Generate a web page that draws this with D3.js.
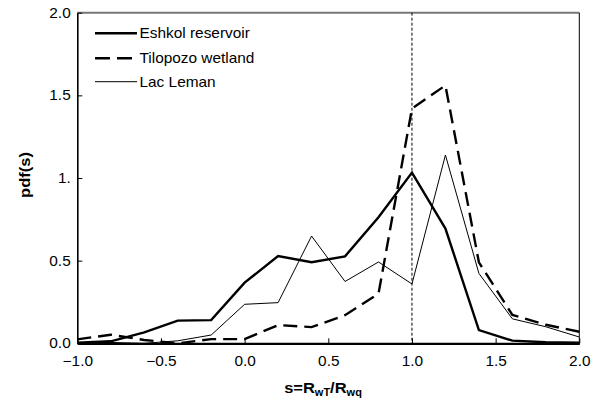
<!DOCTYPE html>
<html><head><meta charset="utf-8">
<script src="https://cdn.jsdelivr.net/npm/d3@7"></script>
<style>
body{margin:0;background:#fff;}
svg text{font-family:"Liberation Sans",Arial,sans-serif;}
</style></head>
<body><svg id="c" width="608" height="400"></svg>
<script>
const sValues = [-1.0,-0.8,-0.6,-0.4,-0.2,0.0,0.2,0.4,0.6,0.8,1.0,1.2,1.4,1.6,1.8,2.0];
const eshkol   = [0.004,0.012,0.066,0.137,0.14,0.367,0.528,0.49,0.526,0.762,1.033,0.694,0.08,0.016,0.006,0.004];
const tilopozo = [0.024,0.052,0.02,0.0,0.025,0.025,0.11,0.098,0.17,0.30,1.42,1.56,0.49,0.172,0.112,0.07];
const leman    = [0.003,0.005,0.0,0.015,0.05,0.236,0.246,0.649,0.374,0.492,0.359,1.139,0.423,0.148,0.1,0.038];
const xTicks = [-1.0,-0.5,0.0,0.5,1.0,1.5,2.0];
const xTickLabels = ["\u22121.0","\u22120.5","0.0","0.5","1.0","1.5","2.0"];
const yTicks = [0,0.5,1.0,1.5,2.0];
const yTickLabels = ["0.0","0.5","1.","1.5","2.0"];
const seriesNames = ["Eshkol reservoir","Tilopozo wetland","Lac Leman"];
const refLine = 1.0;

const W=608,H=400, m={l:77.3,r:28.7,t:12.7,b:56.7};
const svg=d3.select("#c");
const x=d3.scaleLinear().domain([-1,2]).range([m.l,W-m.r]);
const y=d3.scaleLinear().domain([0,2]).range([H-m.b,m.t]);
const SX=1.1;

// top (gray) and right (black) frame
svg.append("line").attr("x1",x(-1)).attr("x2",x(2)).attr("y1",y(2)).attr("y2",y(2))
  .attr("stroke","#777").attr("stroke-width",2);
svg.append("line").attr("x1",x(2)).attr("x2",x(2)).attr("y1",y(2)).attr("y2",y(0))
  .attr("stroke","#000").attr("stroke-width",1);

// reference dotted line
svg.append("line").attr("x1",x(refLine)).attr("x2",x(refLine)).attr("y1",y(2)).attr("y2",y(0))
  .attr("stroke","#000").attr("stroke-width",1).attr("stroke-dasharray","3,2");

const line=d3.line().x((d,i)=>x(sValues[i])).y(d=>y(d));
const styles=[
  {data:eshkol,w:2.4,dash:null},
  {data:tilopozo,w:2.4,dash:"14,7"},
  {data:leman,w:1,dash:null}
];
styles.forEach(s=>{
  svg.append("path").datum(s.data).attr("d",line).attr("fill","none")
    .attr("stroke","#000").attr("stroke-width",s.w).attr("stroke-linejoin","miter")
    .attr("stroke-dasharray",s.dash);
});

// axes
const xa=svg.append("g").attr("transform",`translate(0,${y(0)})`)
  .call(d3.axisBottom(x).tickValues(xTicks).tickFormat((d,i)=>xTickLabels[i]).tickSizeInner(-5).tickSizeOuter(0).tickPadding(13));
xa.select(".domain").attr("stroke-width",2.2);
xa.selectAll("text").attr("font-size",14).attr("fill","#000").attr("transform",`scale(${SX},1)`);
const ya=svg.append("g").attr("transform",`translate(${x(-1)},0)`)
  .call(d3.axisLeft(y).tickValues(yTicks).tickFormat((d,i)=>yTickLabels[i]).tickSizeInner(-5).tickSizeOuter(0).tickPadding(6));
ya.select(".domain").attr("stroke-width",1.6);
ya.selectAll("text").attr("font-size",14).attr("fill","#000").attr("transform",`scale(${SX},1)`);

// axis titles
const xt=svg.append("text").attr("transform",`translate(323,393) scale(${SX},1)`)
  .attr("text-anchor","middle").attr("font-weight","bold").attr("font-size",15);
xt.append("tspan").text("s=R");
xt.append("tspan").attr("font-size",10).attr("dy",3).text("wT");
xt.append("tspan").attr("dy",-3).text("/R");
xt.append("tspan").attr("font-size",10).attr("dy",3).text("wq");
svg.append("text").attr("transform",`translate(30,175) rotate(-90) scale(${SX},1)`)
  .attr("text-anchor","middle").attr("font-weight","bold").attr("font-size",15).text("pdf(s)");

// legend
const legY=[33.3,58.3,81.7];
const legEnd=[137,132,137];
styles.forEach((s,i)=>{
  svg.append("line").attr("x1",95).attr("x2",legEnd[i]).attr("y1",legY[i]).attr("y2",legY[i])
    .attr("stroke","#000").attr("stroke-width",s.w).attr("stroke-dasharray",i===1?"15,7":s.dash);
  svg.append("text").attr("transform",`translate(139.5,${legY[i]+5}) scale(${SX},1)`)
    .attr("font-size",14).attr("fill","#000").text(seriesNames[i]);
});
</script></body></html>
